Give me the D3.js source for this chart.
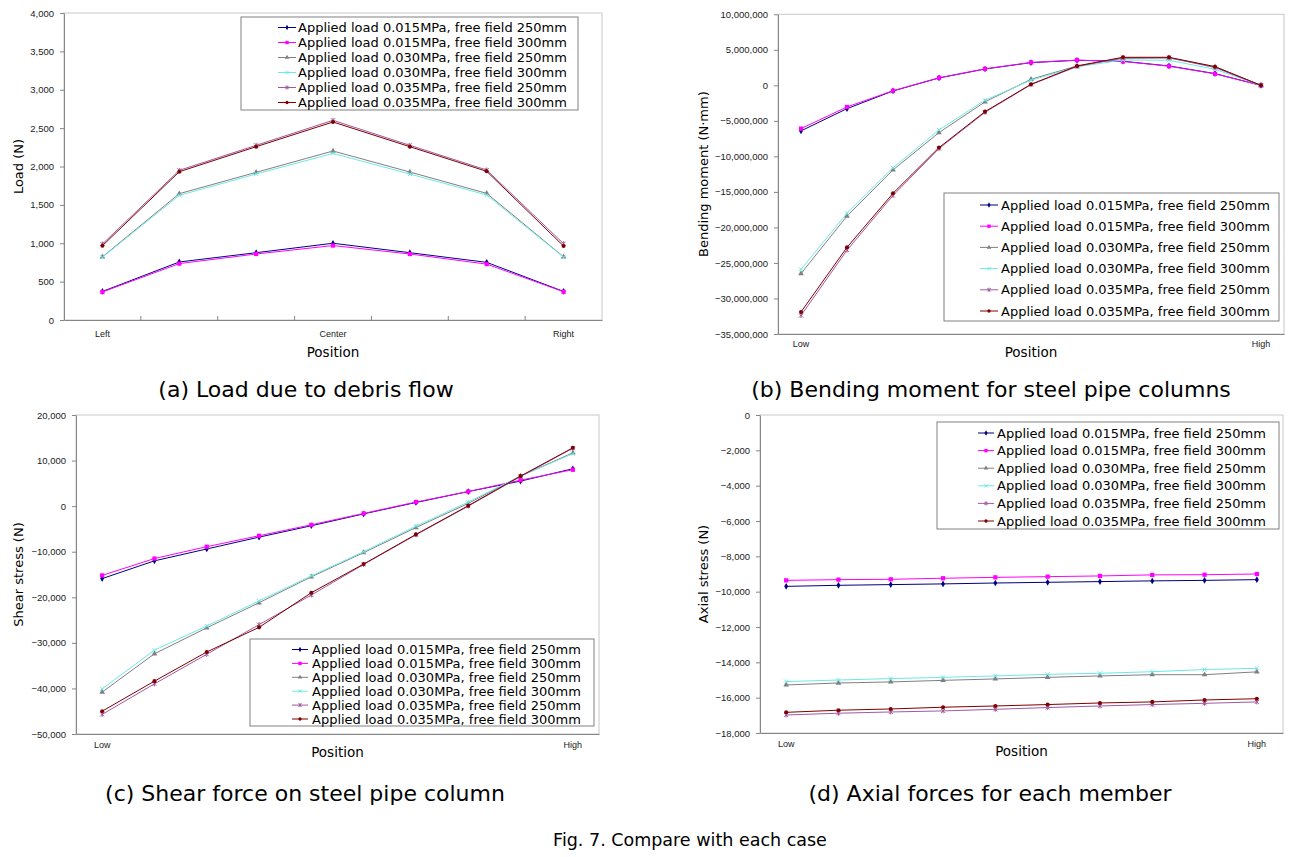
<!DOCTYPE html>
<html>
<head>
<meta charset="utf-8">
<script src="https://cdn.jsdelivr.net/npm/d3@7"></script>
<style>
  body { margin: 0; background: #fff; }
</style>
</head>
<body>
<div id="fig"></div>
<script>
/** legend names shared by the four charts */
let seriesNames = [
  'Applied load 0.015MPa, free field 250mm',
  'Applied load 0.015MPa, free field 300mm',
  'Applied load 0.030MPa, free field 250mm',
  'Applied load 0.030MPa, free field 300mm',
  'Applied load 0.035MPa, free field 250mm',
  'Applied load 0.035MPa, free field 300mm'
];

/** (a) load due to debris flow */
let loadCategories = ['Left', '', '', 'Center', '', '', 'Right'];
let loadTicks = [0, 500, 1000, 1500, 2000, 2500, 3000, 3500, 4000];
let loadSeries = [
  [372, 756, 877, 1000, 877, 751, 372],
  [365, 735, 860, 970, 860, 728, 368],
  [823, 1646, 1924, 2202, 1928, 1650, 823],
  [817, 1624, 1902, 2171, 1902, 1629, 819],
  [990, 1950, 2276, 2602, 2276, 1954, 994],
  [968, 1932, 2258, 2580, 2258, 1937, 964]
];

/** (b) bending moment */
let bendingCategories = ['Low', '', '', '', '', '', '', '', '', '', 'High'];
let bendingTicks = [-35000000, -30000000, -25000000, -20000000, -15000000, -10000000, -5000000, 0, 5000000, 10000000];
let bendingSeries = [
  [-6410000, -3280000, -790000, 1040000, 2300000, 3200000, 3530000, 3390000, 2730000, 1650000, 0],
  [-6090000, -3040000, -760000, 1060000, 2320000, 3220000, 3550000, 3360000, 2700000, 1620000, 0],
  [-26500000, -18400000, -11900000, -6650000, -2330000, 860000, 2730000, 3800000, 3850000, 2630000, 0],
  [-25900000, -18000000, -11600000, -6270000, -2100000, 720000, 2600000, 3570000, 3530000, 2260000, 0],
  [-32400000, -23200000, -15500000, -8900000, -3800000, 100000, 2650000, 3900000, 3900000, 2500000, 0],
  [-31900000, -22800000, -15200000, -8760000, -3700000, 150000, 2730000, 3950000, 3950000, 2630000, 0]
];

/** (c) shear force */
let shearCategories = ['Low', '', '', '', '', '', '', '', '', 'High'];
let shearTicks = [-50000, -40000, -30000, -20000, -10000, 0, 10000, 20000];
let shearSeries = [
  [-15900, -12000, -9400, -6800, -4300, -1700, 800, 3200, 5500, 8200],
  [-15200, -11500, -8900, -6500, -4100, -1600, 900, 3200, 5700, 8000],
  [-40800, -32400, -26700, -21200, -15500, -10200, -4700, 600, 6600, 11700],
  [-40100, -31600, -26300, -20800, -15300, -10000, -4400, 900, 6600, 11500],
  [-45700, -39000, -32500, -26000, -19500, -12800, -6300, 0, 6500, 12700],
  [-45000, -38400, -32000, -26600, -19000, -12700, -6200, 100, 6600, 12800]
];

/** (d) axial force */
let axialCategories = ['Low', '', '', '', '', '', '', '', '', 'High'];
let axialTicks = [-18000, -16000, -14000, -12000, -10000, -8000, -6000, -4000, -2000, 0];
let axialSeries = [
  [-9700, -9640, -9600, -9560, -9510, -9470, -9430, -9390, -9360, -9320],
  [-9360, -9320, -9300, -9240, -9190, -9150, -9110, -9050, -9040, -9000],
  [-15280, -15170, -15110, -15020, -14940, -14850, -14770, -14700, -14700, -14540],
  [-15090, -15000, -14920, -14850, -14770, -14680, -14620, -14530, -14410, -14340],
  [-16980, -16880, -16810, -16750, -16660, -16560, -16470, -16390, -16320, -16240],
  [-16830, -16710, -16640, -16540, -16470, -16390, -16300, -16240, -16130, -16060]
];

/** line colours and marker kinds, one per series */
let colors = ['#000080', '#ff00ff', '#808080', '#6ee8e8', '#a05aa0', '#800000'];
let markers = ['diamond', 'square', 'triangle', 'x', 'star', 'circle'];

let width = 1304;
let height = 857;

let svg = d3.select('#fig')
  .append('svg')
  .attr('width', width)
  .attr('height', height)
  .style('display', 'block')
  .style('background', '#fff');

let tickFont = '"Liberation Sans", Arial, sans-serif';
let textFont = '"DejaVu Sans", sans-serif';

/** draw one marker of kind k at (x, y), scaled by f */
function drawMarker(g, k, x, y, color, f) {
  if (k === 'x' || k === 'star') {
    let r = 2 * f;
    let p = `M${x - r},${y - r}L${x + r},${y + r}M${x - r},${y + r}L${x + r},${y - r}`;
    if (k === 'star') p += `M${x},${y - r - 0.5}L${x},${y + r + 0.5}`;
    g.append('path').attr('d', p).attr('stroke', color).attr('stroke-width', 1).attr('fill', 'none');
    return;
  }
  let type = { diamond: d3.symbolDiamond, square: d3.symbolSquare, triangle: d3.symbolTriangle, circle: d3.symbolCircle }[k];
  let size = { diamond: 13, square: 18, triangle: 14, circle: 13 }[k];
  g.append('path')
    .attr('d', d3.symbol().type(type).size(size * f * f)())
    .attr('transform', `translate(${x},${y})`)
    .attr('fill', color);
}

function drawPanel(cfg) {
  let g = svg.append('g');
  let x = d3.scaleBand()
    .domain(d3.range(cfg.categories.length))
    .range([cfg.left, cfg.right]);
  let y = d3.scaleLinear()
    .domain(d3.extent(cfg.ticks))
    .range([cfg.bottom, cfg.top]);

  // plot area border
  g.append('rect')
    .attr('x', cfg.left).attr('y', cfg.top)
    .attr('width', cfg.right - cfg.left).attr('height', cfg.bottom - cfg.top)
    .attr('fill', 'none').attr('stroke', '#c8c8c8');

  // y axis
  let ya = g.append('g')
    .attr('transform', `translate(${cfg.left},0)`)
    .call(d3.axisLeft(y).tickValues(cfg.ticks).tickFormat(d3.format(',')).tickSize(4).tickSizeOuter(0).tickPadding(6));
  ya.select('.domain').attr('stroke', '#868686');
  ya.selectAll('.tick line').attr('stroke', '#868686');
  ya.selectAll('text').attr('font-family', tickFont).attr('font-size', 9.5).attr('fill', '#222');

  // x axis
  let xa = g.append('g')
    .attr('transform', `translate(0,${cfg.bottom})`)
    .call(d3.axisBottom(x).tickFormat(i => cfg.categories[i]).tickSize(0).tickSizeOuter(0).tickPadding(cfg.xPad));
  xa.select('.domain').attr('stroke', '#868686');
  xa.selectAll('text').attr('font-family', tickFont).attr('font-size', 9).attr('fill', '#222');

  if (cfg.innerTicks) {
    d3.range(1, cfg.categories.length).forEach(i => {
      let xx = cfg.left + i * x.step();
      g.append('line')
        .attr('x1', xx).attr('x2', xx)
        .attr('y1', cfg.bottom).attr('y2', cfg.bottom - 4)
        .attr('stroke', '#868686');
    });
  }

  // axis titles
  g.append('text')
    .attr('transform', `translate(${cfg.titleX},${(cfg.top + cfg.bottom) / 2}) rotate(-90)`)
    .attr('text-anchor', 'middle').attr('dy', '0.35em')
    .attr('font-family', textFont).attr('font-size', 13)
    .text(cfg.yTitle);
  g.append('text')
    .attr('x', (cfg.left + cfg.right) / 2).attr('y', cfg.bottom + cfg.posDy)
    .attr('text-anchor', 'middle').attr('dy', '0.35em')
    .attr('font-family', textFont).attr('font-size', 13.5)
    .text('Position');

  // series
  let line = d3.line()
    .x((d, i) => x(i) + x.bandwidth() / 2)
    .y(d => y(d));
  cfg.series.forEach((vals, s) => {
    let sg = g.append('g');
    sg.append('path')
      .attr('d', line(vals))
      .attr('fill', 'none')
      .attr('stroke', colors[s])
      .attr('stroke-width', 1);
    vals.forEach((v, i) => drawMarker(sg, markers[s], x(i) + x.bandwidth() / 2, y(v), colors[s], 1));
  });

  // legend
  let L = cfg.legend;
  let lg = g.append('g');
  lg.append('rect')
    .attr('x', L.x0).attr('y', L.y0)
    .attr('width', L.x1 - L.x0).attr('height', L.y1 - L.y0)
    .attr('fill', '#fff').attr('stroke', '#808080');
  seriesNames.forEach((name, s) => {
    let yy = L.row0 + s * L.gap;
    lg.append('line')
      .attr('x1', L.mx0).attr('x2', L.mx1)
      .attr('y1', yy).attr('y2', yy)
      .attr('stroke', colors[s]);
    drawMarker(lg, markers[s], (L.mx0 + L.mx1) / 2, yy, colors[s], 0.8);
    lg.append('text')
      .attr('x', L.tx).attr('y', yy).attr('dy', '0.35em')
      .attr('font-family', textFont).attr('font-size', 13)
      .text(name);
  });

  // caption
  svg.append('text')
    .attr('x', cfg.capX).attr('y', cfg.capY).attr('dy', '0.35em')
    .attr('text-anchor', 'middle')
    .attr('font-family', textFont).attr('font-size', 22)
    .text(cfg.caption);
}

drawPanel({
  categories: loadCategories, ticks: loadTicks, series: loadSeries,
  left: 64, right: 602, top: 13, bottom: 320, xPad: 11, innerTicks: true,
  titleX: 18, posDy: 32, yTitle: 'Load (N)',
  legend: { x0: 241, x1: 578, y0: 17, y1: 110, row0: 27.5, gap: 15, mx0: 278, mx1: 296, tx: 298 },
  caption: '(a) Load due to debris flow', capX: 306, capY: 389
});

drawPanel({
  categories: bendingCategories, ticks: bendingTicks, series: bendingSeries,
  left: 778, right: 1284, top: 14.3, bottom: 334, xPad: 7, innerTicks: false,
  titleX: 703, posDy: 18, yTitle: 'Bending moment (N·mm)',
  legend: { x0: 944, x1: 1279, y0: 193, y1: 321, row0: 205, gap: 21.2, mx0: 980, mx1: 998, tx: 1001 },
  caption: '(b) Bending moment for steel pipe columns', capX: 991, capY: 389
});

drawPanel({
  categories: shearCategories, ticks: shearTicks, series: shearSeries,
  left: 76, right: 599, top: 415, bottom: 734, xPad: 8, innerTicks: false,
  titleX: 18, posDy: 18, yTitle: 'Shear stress (N)',
  legend: { x0: 250, x1: 594, y0: 639, y1: 726, row0: 649.5, gap: 13.9, mx0: 292, mx1: 308, tx: 312 },
  caption: '(c) Shear force on steel pipe column', capX: 305, capY: 793
});

drawPanel({
  categories: axialCategories, ticks: axialTicks, series: axialSeries,
  left: 760, right: 1283, top: 415, bottom: 733, xPad: 8, innerTicks: false,
  titleX: 703, posDy: 18, yTitle: 'Axial stress (N)',
  legend: { x0: 937, x1: 1279, y0: 422, y1: 529, row0: 433, gap: 17.6, mx0: 978, mx1: 994, tx: 997 },
  caption: '(d) Axial forces for each member', capX: 990, capY: 793
});

/** figure caption */
svg.append('text')
  .attr('x', 690).attr('y', 840).attr('dy', '0.35em')
  .attr('text-anchor', 'middle')
  .attr('font-family', textFont).attr('font-size', 17.5)
  .text('Fig. 7. Compare with each case');
</script>
</body>
</html>
